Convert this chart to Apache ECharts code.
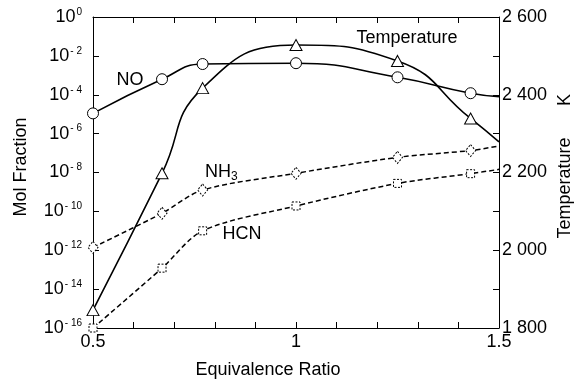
<!DOCTYPE html>
<html>
<head>
<meta charset="utf-8">
<script src="https://cdn.jsdelivr.net/npm/echarts@6/dist/echarts.min.js"></script>
<style>html,body{margin:0;padding:0;background:#fff}#c{width:584px;height:380px}</style>
</head>
<body>
<div id="c"></div>
<script>
// Equivalence ratios (last point = curve end, no marker)
var phi = [0.5, 0.67, 0.77, 1.0, 1.25, 1.43, 1.5];
// Mol fractions
var NO  = [1.1e-5, 6.3e-4, 3.8e-3, 4.2e-3, 7.9e-4, 1.2e-4, 8e-5];
var NH3 = [1.4e-12, 8e-11, 1.26e-9, 9.1e-9, 6e-8, 1.35e-7, 2.3e-7];
var HCN = [1e-16, 1.2e-13, 1e-11, 1.9e-10, 2.75e-9, 8.7e-9, 1.45e-8];
// Temperature (K)
var Temp = [1846, 2198, 2417, 2528, 2487, 2339, 2279];
var xTickLabels = [0.5, 1, 1.5];

var FONT = 'Liberation Sans';
function mk(arr) {
  return phi.map(function (x, i) {
    var d = { value: [x, arr[i]] };
    if (i === phi.length - 1) d.symbol = 'none';
    return d;
  });
}
var chart = echarts.init(document.getElementById('c'), null, { renderer: 'canvas' });
var axisLine = { show: true, lineStyle: { color: '#000', width: 1 } };
var markerSolid = { color: '#fff', borderColor: '#000', borderWidth: 1 };
var markerDashed = { color: '#fff', borderColor: '#000', borderWidth: 1, borderType: [2, 1.5] };

chart.setOption({
  animation: false,
  backgroundColor: '#fff',
  grid: { left: 93, right: 85, top: 17, bottom: 52 },
  xAxis: [{
    type: 'value', min: 0.5, max: 1.5, interval: 0.1, position: 'bottom',
    axisLine: axisLine,
    axisTick: { inside: true, length: 6, lineStyle: { color: '#000' } },
    splitLine: { show: false },
    axisLabel: {
      margin: 5, color: '#000', fontFamily: FONT, fontSize: 18,
      showMinLabel: true, showMaxLabel: true,
      formatter: function (v) {
        for (var i = 0; i < xTickLabels.length; i++) {
          if (Math.abs(v - xTickLabels[i]) < 1e-6) return String(xTickLabels[i]);
        }
        return '';
      }
    }
  }, {
    type: 'value', min: 0.5, max: 1.5, interval: 0.1, position: 'top',
    axisLine: axisLine,
    axisTick: { inside: true, length: 6, lineStyle: { color: '#000' } },
    splitLine: { show: false },
    axisLabel: { show: false }
  }],
  yAxis: [{
    type: 'log', logBase: 10, min: 1e-16, max: 1, interval: 2, position: 'left',
    axisLine: axisLine,
    axisTick: { inside: true, length: 6, lineStyle: { color: '#000' } },
    splitLine: { show: false },
    axisLabel: {
      margin: 11, color: '#000', fontFamily: FONT,
      showMinLabel: true, showMaxLabel: true,
      formatter: function (v) {
        var e = Math.round(Math.log(v) / Math.LN10);
        return '{b|10}{s|' + (e === 0 ? '0' : '- ' + (-e)) + '}';
      },
      rich: {
        b: { fontSize: 18, fontFamily: FONT, color: '#000', lineHeight: 20 },
        s: { fontSize: 10, fontFamily: FONT, color: '#000', verticalAlign: 'top', padding: [0, 0, 0, 1] }
      }
    }
  }, {
    type: 'value', min: 1800, max: 2600, interval: 100, position: 'right',
    axisLine: axisLine,
    axisTick: { inside: true, length: 6, lineStyle: { color: '#000' } },
    splitLine: { show: false },
    axisLabel: {
      margin: 3, color: '#000', fontFamily: FONT, fontSize: 18,
      showMinLabel: true, showMaxLabel: true,
      formatter: function (v) {
        if (v % 200 !== 0) return '';
        var s = String(v);
        return s.slice(0, s.length - 3) + ' ' + s.slice(-3);
      }
    }
  }],
  series: [{
    name: 'NO', type: 'line', xAxisIndex: 0, yAxisIndex: 0,
    data: mk(NO), smooth: 0.5, symbol: 'circle', symbolSize: 11, showAllSymbol: true,
    lineStyle: { color: '#000', width: 1.6 }, itemStyle: markerSolid, z: 3
  }, {
    name: 'Temperature', type: 'line', xAxisIndex: 0, yAxisIndex: 1,
    data: mk(Temp), smooth: 0.5, symbol: 'triangle', symbolSize: [12, 11], showAllSymbol: true,
    lineStyle: { color: '#000', width: 1.6 }, itemStyle: markerSolid, z: 3
  }, {
    name: 'NH3', type: 'line', xAxisIndex: 0, yAxisIndex: 0,
    data: mk(NH3), smooth: 0.3, symbol: 'diamond', symbolSize: [10, 12], showAllSymbol: true,
    lineStyle: { color: '#000', width: 1.5, type: [5, 3] }, itemStyle: markerDashed, z: 2
  }, {
    name: 'HCN', type: 'line', xAxisIndex: 0, yAxisIndex: 0,
    data: mk(HCN), smooth: 0.3, symbol: 'rect', symbolSize: 8, showAllSymbol: true,
    lineStyle: { color: '#000', width: 1.5, type: [5, 3] }, itemStyle: markerDashed, z: 2
  }],
  graphic: [
    { type: 'text', x: 21, y: 167, rotation: Math.PI / 2,
      style: { text: 'Mol Fraction', fontFamily: FONT, fontSize: 18, fill: '#000', align: 'center', verticalAlign: 'middle' } },
    { type: 'text', x: 268, y: 370,
      style: { text: 'Equivalence Ratio', fontFamily: FONT, fontSize: 18, fill: '#000', align: 'center', verticalAlign: 'middle' } },
    { type: 'text', x: 565, y: 188, rotation: Math.PI / 2,
      style: { text: 'Temperature', fontFamily: FONT, fontSize: 18, fill: '#000', align: 'center', verticalAlign: 'middle' } },
    { type: 'text', x: 565, y: 100, rotation: Math.PI / 2,
      style: { text: 'K', fontFamily: FONT, fontSize: 18, fill: '#000', align: 'center', verticalAlign: 'middle' } },
    { type: 'text', x: 130, y: 80,
      style: { text: 'NO', fontFamily: FONT, fontSize: 18, fill: '#000', align: 'center', verticalAlign: 'middle' } },
    { type: 'text', x: 407, y: 38,
      style: { text: 'Temperature', fontFamily: FONT, fontSize: 18, fill: '#000', align: 'center', verticalAlign: 'middle' } },
    { type: 'text', x: 205, y: 172,
      style: { text: '{a|NH}{b|3}', fill: '#000', verticalAlign: 'middle',
        rich: { a: { fontFamily: FONT, fontSize: 18, fill: '#000', lineHeight: 22 },
                b: { fontFamily: FONT, fontSize: 12, fill: '#000', verticalAlign: 'bottom' } } } },
    { type: 'text', x: 242, y: 234,
      style: { text: 'HCN', fontFamily: FONT, fontSize: 18, fill: '#000', align: 'center', verticalAlign: 'middle' } }
  ]
});
</script>
</body>
</html>
